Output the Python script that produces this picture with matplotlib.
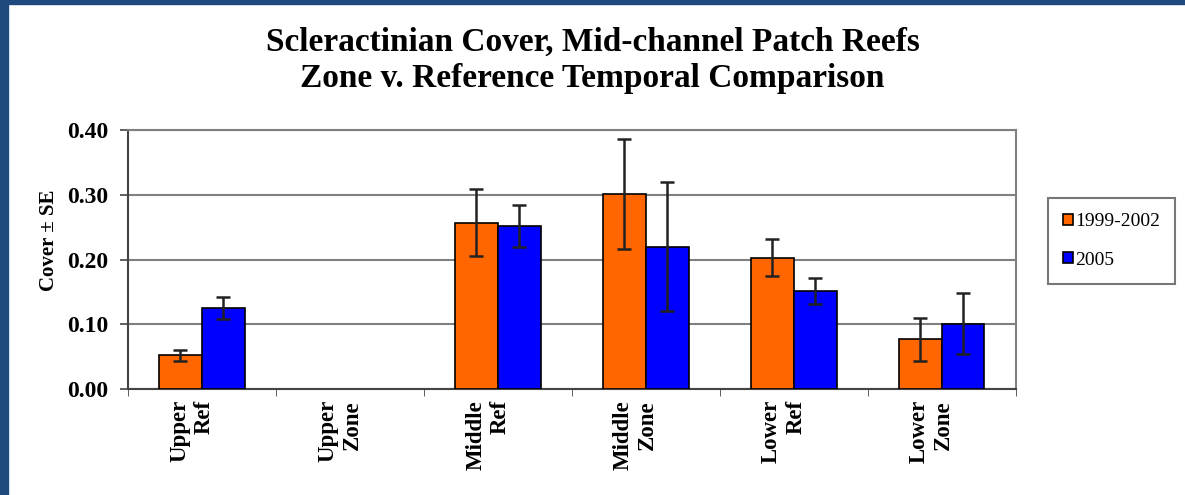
import numpy as np
import matplotlib.pyplot as plt
from matplotlib.patches import Rectangle
from matplotlib.transforms import ScaledTranslation

# Data
categories = ['Upper\nRef', 'Upper\nZone', 'Middle\nRef', 'Middle\nZone', 'Lower\nRef', 'Lower\nZone']
series = ['1999-2002', '2005']
cover_early = [0.052, np.nan, 0.257, 0.302, 0.203, 0.077]
se_early = [0.009, np.nan, 0.052, 0.085, 0.029, 0.033]
cover_2005 = [0.125, np.nan, 0.252, 0.220, 0.152, 0.101]
se_2005 = [0.017, np.nan, 0.033, 0.100, 0.020, 0.047]
colors = ['#FF6600', '#0000FF']

plt.rcParams['font.family'] = ['Liberation Serif', 'DejaVu Serif']

fig = plt.figure(figsize=(11.85, 4.95), dpi=100)
ax = fig.add_axes([0.108, 0.214, 0.749, 0.523])

x = np.arange(len(categories))
w = 0.29
ax.bar(x - w / 2, cover_early, w, color=colors[0], edgecolor='black', lw=1.2,
       label=series[0], zorder=3)
ax.bar(x + w / 2, cover_2005, w, color=colors[1], edgecolor='black', lw=1.2,
       label=series[1], zorder=3)
ax.errorbar(x - w / 2, cover_early, yerr=se_early, fmt='none', ecolor='#222222',
            elinewidth=1.8, capsize=5, capthick=1.8, zorder=4)
ax.errorbar(x + w / 2, cover_2005, yerr=se_2005, fmt='none', ecolor='#222222',
            elinewidth=1.8, capsize=5, capthick=1.8, zorder=4)

ax.set_xlim(-0.5, len(categories) - 0.5)
ax.set_ylim(0, 0.40)
ax.set_yticks(np.arange(0, 0.41, 0.1))
ax.set_yticklabels([f'{v:.2f}' for v in np.arange(0, 0.41, 0.1)],
                   fontsize=17, fontweight='bold')
ax.yaxis.grid(True, color='#808080', lw=1.5, zorder=0)

ax.set_xticks(x)
ax.set_xticklabels(categories, rotation=90, fontsize=16.5, fontweight='bold',
                   linespacing=1.2, multialignment='right')
ax.tick_params(axis='x', length=0, pad=8)
ax.set_xticks(np.arange(-0.5, len(categories)), minor=True)
ax.tick_params(axis='x', which='minor', length=5, direction='out', color='#444444')
ax.tick_params(axis='y', length=6, direction='out', color='#444444', width=1.2, pad=8)
# category labels sit a little left of the bar pair, as in the original
shift = ScaledTranslation(-0.10, 0, fig.dpi_scale_trans)
for lbl in ax.get_xticklabels():
    lbl.set_transform(lbl.get_transform() + shift)

ax.set_ylabel('Cover ± SE', fontsize=15, fontweight='bold')
ax.yaxis.set_label_coords(-0.078, 0.575)

for s in ['left', 'bottom']:
    ax.spines[s].set_color('#444444')
    ax.spines[s].set_linewidth(1.5)
for s in ['top', 'right']:
    ax.spines[s].set_color('#808080')
    ax.spines[s].set_linewidth(1.5)

fig.text(0.5, 0.878, 'Scleractinian Cover, Mid-channel Patch Reefs\nZone v. Reference Temporal Comparison',
         ha='center', va='center', fontsize=24, fontweight='bold', linespacing=1.2)

leg = fig.legend(loc='center left', bbox_to_anchor=(0.884, 0.513), fontsize=14,
                 frameon=True, fancybox=False, edgecolor='#555555',
                 handlelength=0.5, handleheight=0.5, handletextpad=0.1,
                 labelspacing=1.1, borderpad=0.8, borderaxespad=0)
leg.get_frame().set_linewidth(1.5)

# dark blue slide border on left and top
fig.patches.append(Rectangle((0, 0), 0.0065, 1, transform=fig.transFigure,
                             color='#1F4A7E', zorder=10))
fig.patches.append(Rectangle((0, 0.992), 1, 0.008, transform=fig.transFigure,
                             color='#1F4A7E', zorder=10))

fig.savefig('out.png', dpi=100)
